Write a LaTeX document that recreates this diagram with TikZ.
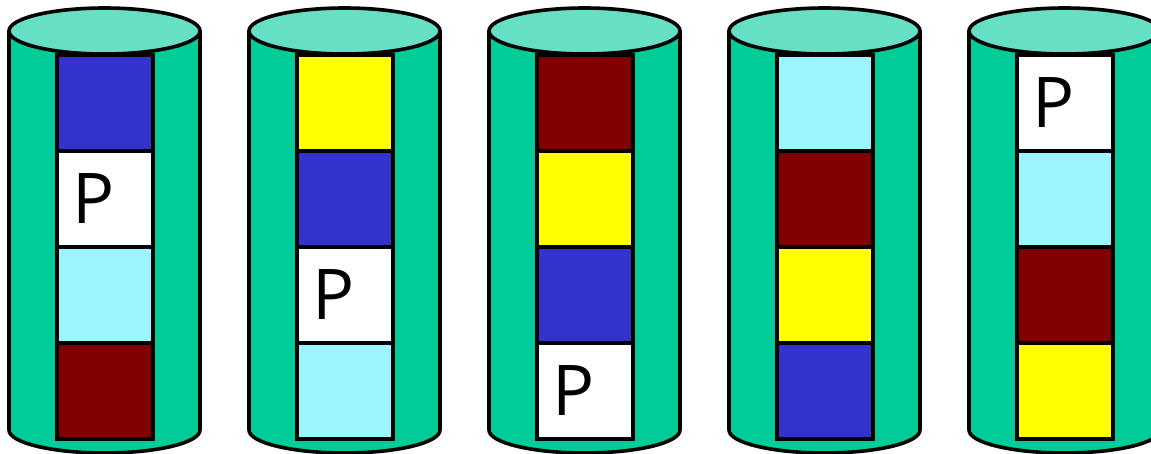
\documentclass[tikz,border=0pt]{standalone}
\usepackage{fontspec}
\newfontfamily\pfont{Open Sans}
\definecolor{sidec}{HTML}{00CC99}
\definecolor{topc}{HTML}{66E0C4}
\definecolor{blu}{HTML}{3333CC}
\definecolor{yel}{HTML}{FFFF00}
\definecolor{mar}{HTML}{800000}
\definecolor{lcy}{HTML}{9CF5FE}
\definecolor{wht}{HTML}{FFFFFF}
\tikzset{
  cylside/.style={fill=sidec,draw=black,line width=3.6pt,line join=round},
  cyltop/.style={fill=topc,draw=black,line width=3.6pt},
  blk/.style={draw=black,line width=3.6pt,minimum width=96pt,minimum height=96pt,inner sep=0pt,outer sep=0pt,anchor=north west},
  plabel/.style={font=\pfont\fontsize{70}{70}\selectfont,inner sep=0pt}
}
\begin{document}
\begin{tikzpicture}[x=1pt,y=1pt]
\useasboundingbox (0,0) rectangle (1151,453);
\foreach \i/\ca/\cb/\cc/\cd/\pp in {0/blu/wht/lcy/mar/2,1/yel/blu/wht/lcy/3,2/mar/yel/blu/wht/4,3/lcy/mar/yel/blu/0,4/wht/lcy/mar/yel/1}{
  \pgfmathsetmacro{\L}{9+240*\i}
  \pgfmathsetmacro{\R}{\L+191}
  \pgfmathsetmacro{\C}{\L+95.5}
  \pgfmathsetmacro{\B}{\L+48}
  \draw[cylside] (\L,422) -- (\L,23) arc[start angle=180,end angle=360,x radius=95.5pt,y radius=23pt] -- (\R,422) -- cycle;
  \draw[cyltop] (\C,422) ellipse[x radius=95.5pt,y radius=23pt];
  \node[blk,fill=\ca] (b\i a) at (\B,398) {};
  \node[blk,fill=\cb] (b\i b) at (\B,302) {};
  \node[blk,fill=\cc] (b\i c) at (\B,206) {};
  \node[blk,fill=\cd] (b\i d) at (\B,110) {};
  \ifnum\pp>0
    \pgfmathsetmacro{\Py}{398-96*(\pp-1)-48}
    \node[plabel] (p\i) at (\B+37,\Py) {P};
  \fi
}
\end{tikzpicture}
\end{document}
